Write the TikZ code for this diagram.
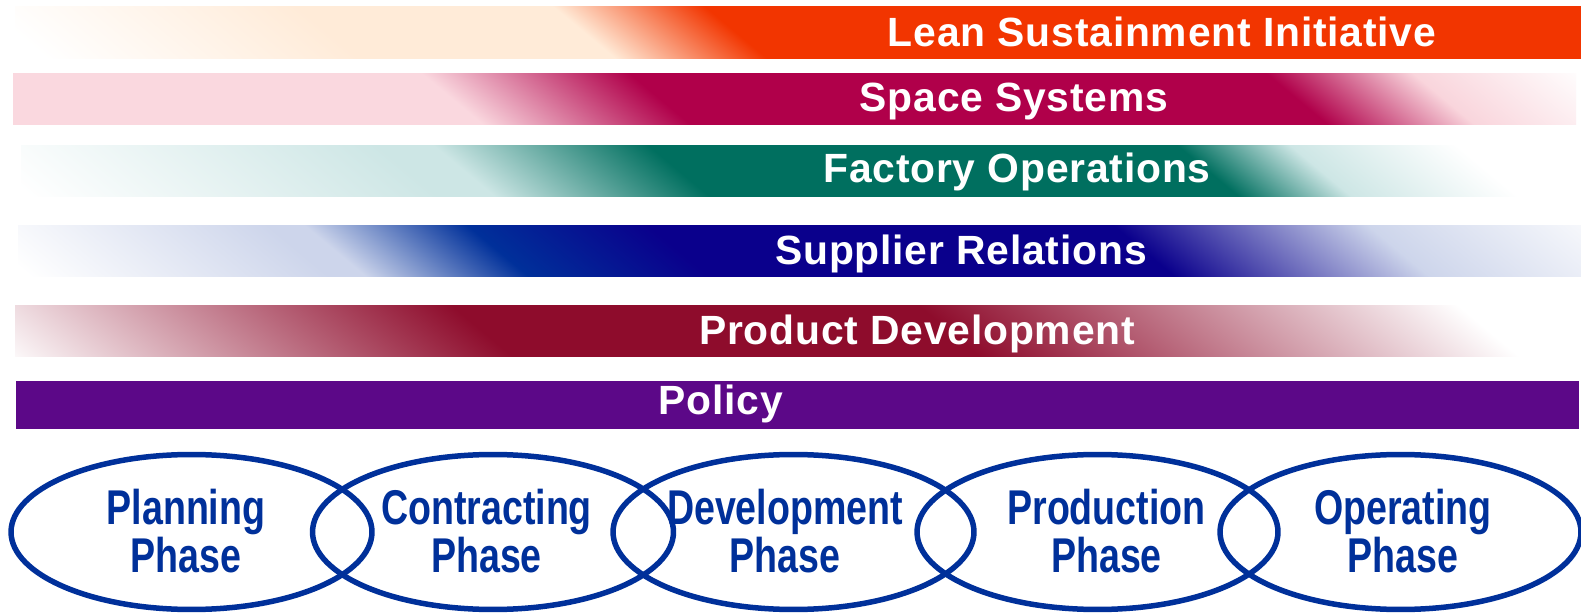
\documentclass[tikz,border=0pt]{standalone}
\usepackage{fontspec}
\setmainfont{Liberation Sans}
\newfontfamily\phasefont[FakeStretch=0.77]{Liberation Sans}
\newfontfamily\barfont[LetterSpace=2]{Liberation Sans}
\usetikzlibrary{shapes.geometric}
\definecolor{leanred}{HTML}{F23500}
\definecolor{peach}{HTML}{FFEBD8}
\definecolor{spacepink}{HTML}{FAD8DF}
\definecolor{spacepinkb}{HTML}{F9D5DC}
\definecolor{spacecrimson}{HTML}{B0004A}
\definecolor{paleteal}{HTML}{CDE6E5}
\definecolor{factoryteal}{HTML}{006F5F}
\definecolor{paleblue}{HTML}{CDD5EB}
\definecolor{supblue}{HTML}{00309A}
\definecolor{supnavy}{HTML}{0A008C}
\definecolor{prodred}{HTML}{8E0C2C}
\definecolor{policypurple}{HTML}{5C0888}
\definecolor{phaseblue}{HTML}{00309A}
% shadings: position 0 = x of -40px, 1px = 0.02cm
\pgfdeclarehorizontalshading{shLean}{1.4cm}{color(0cm)=(white); color(1.1cm)=(white); color(7.4cm)=(peach); color(12.5cm)=(peach); color(15.54cm)=(leanred); color(33.6cm)=(leanred)}
\pgfdeclarehorizontalshading{shSpace}{1.4cm}{color(0cm)=(spacepink); color(9.86cm)=(spacepink); color(14.02cm)=(spacecrimson); color(26.76cm)=(spacecrimson); color(29.7cm)=(spacepinkb); color(33.2cm)=(white); color(33.6cm)=(white)}
\pgfdeclarehorizontalshading{shFactory}{1.4cm}{color(0cm)=(white); color(0.8cm)=(white); color(9cm)=(paleteal); color(10.1cm)=(paleteal); color(14.4cm)=(factoryteal); color(24.98cm)=(factoryteal); color(27.24cm)=(paleteal); color(30.58cm)=(white); color(33.6cm)=(white)}
\pgfdeclarehorizontalshading{shSupplier}{1.4cm}{color(0cm)=(white); color(0.8cm)=(white); color(6.8cm)=(paleblue); color(7.52cm)=(paleblue); color(10.78cm)=(supblue); color(14.4cm)=(supnavy); color(23.7cm)=(supnavy); color(28.8cm)=(paleblue); color(34cm)=(white); color(34.4cm)=(white)}
\pgfdeclarehorizontalshading{shProduct}{1.4cm}{color(0cm)=(white); color(0.2cm)=(white); color(10.46cm)=(prodred); color(19.8cm)=(prodred); color(30.6cm)=(white); color(33.6cm)=(white)}
% #1 node name, #2 shading, #3 x0, #4 y0, #5 x1, #6 y1 (px)
\newcommand\shadebar[6]{%
  \begin{scope}
    \clip (#3,#4) rectangle (#5,#6);
    \pgfmathsetmacro\barmid{(#4+#6)/2}%
    \pgfmathsetmacro\barshift{-1.2*\barmid}%
    \begin{scope}[transform canvas={shift={(\barshift,0)},xslant=-1.2}]
      \node[inner sep=0pt,outer sep=0pt,anchor=west] (#1) at (-40,\barmid) {\pgfuseshading{#2}};
    \end{scope}
  \end{scope}}
\begin{document}
\begin{tikzpicture}[x=0.02cm,y=-0.02cm,
  barlabel/.style={text=white,font=\barfont\fontsize{23.24}{28}\selectfont\bfseries,inner sep=0pt,anchor=base},
  phase/.style={ellipse,draw=phaseblue,line width=0.11cm,minimum width=7.22cm,minimum height=3.1cm,inner sep=0pt},
  phasetext/.style={text=phaseblue,font=\phasefont\fontsize{27.78}{27.2}\selectfont\bfseries,align=center,inner sep=0pt}]
\useasboundingbox (0,0) rectangle (1581,614);
\fill[white] (0,0) rectangle (1581,614);
% bars
\shadebar{b1}{shLean}{15}{7}{1581}{59}
\shadebar{b2}{shSpace}{13}{74}{1576}{125}
\shadebar{b3}{shFactory}{21}{146}{1581}{197}
\shadebar{b4}{shSupplier}{18}{226}{1581}{277}
\shadebar{b5}{shProduct}{15}{306}{1581}{357}
\fill[policypurple] (16,381) rectangle (1579,429);
% bar labels
\node[barlabel] (l1) at (1162,47) {Lean Sustainment Initiative};
\node[barlabel] (l2) at (1014,112) {Space Systems};
\node[barlabel] (l3) at (1017,183) {Factory Operations};
\node[barlabel] (l4) at (961,265) {Supplier Relations};
\node[barlabel] (l5) at (917,345) {Product Development};
\node[barlabel] (l6) at (721,415) {Policy};
% phases
\node[phase] (e1) at (191.5,532) {};
\node[phase] (e2) at (493,532) {};
\node[phase] (e3) at (793.5,532) {};
\node[phase] (e4) at (1097.5,532) {};
\node[phase] (e5) at (1400.5,532) {};
\node[phasetext] (t1) at (186,531) {Planning\\Phase};
\node[phasetext] (t2) at (486.5,531) {Contracting\\Phase};
\node[phasetext] (t3) at (785,531) {Development\\Phase};
\node[phasetext] (t4) at (1106.5,531) {Production\\Phase};
\node[phasetext] (t5) at (1403,531) {Operating\\Phase};
\end{tikzpicture}
\end{document}
